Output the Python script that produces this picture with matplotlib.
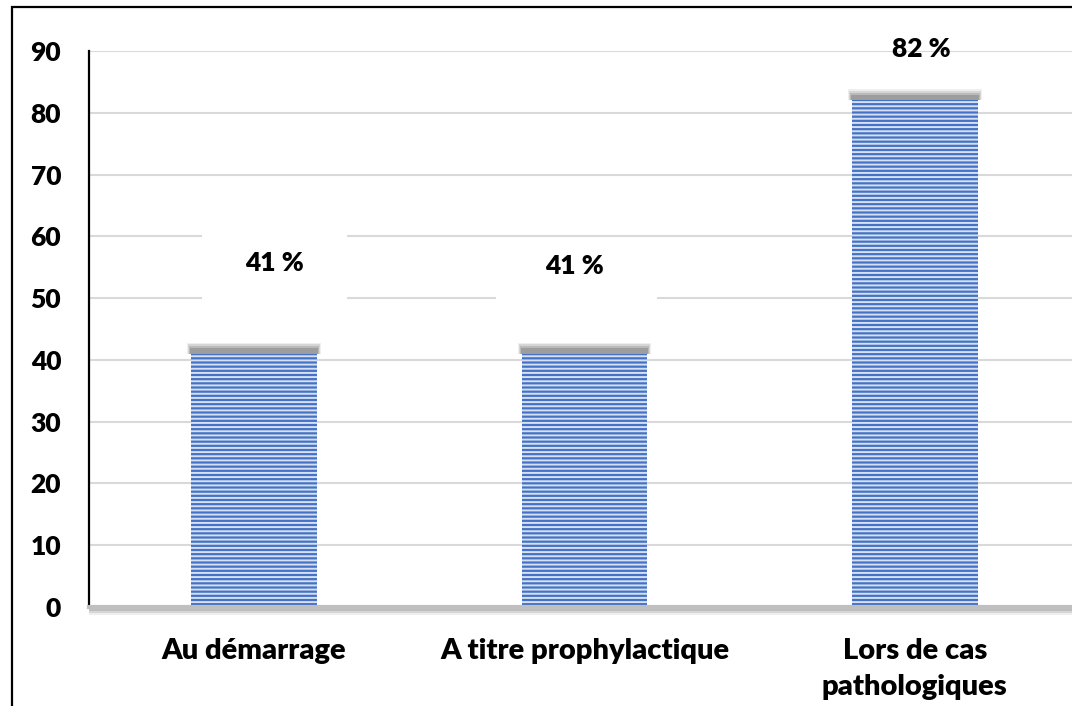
import matplotlib
matplotlib.use("Agg")
import matplotlib.pyplot as plt
from matplotlib.patches import Rectangle
import numpy as np

categories = ["Au démarrage", "A titre prophylactique", "Lors de cas\npathologiques"]
values = [41, 41, 82]
value_labels = ["41 %", "41 %", "82 %"]
yticks = [0, 10, 20, 30, 40, 50, 60, 70, 80, 90]

plt.rcParams['font.family'] = ['Lato', 'DejaVu Sans']
plt.rcParams['hatch.linewidth'] = 1.4

W, H = 1072, 706
fig = plt.figure(figsize=(W / 100, H / 100), dpi=100)
ax = fig.add_axes([89 / W, 1 - 607 / H, (1080 - 89) / W, (607 - 51) / H])

x = np.arange(len(categories))
bw = 0.38
blue = "#4472C4"

# soft shadows on bar tops
for xi, v in zip(x, values):
    for k, a in enumerate([0.12, 0.2, 0.3, 0.45]):
        grow = 0.012 - k * 0.003
        ax.add_patch(Rectangle((xi - bw / 2 - grow, v), bw + 2 * grow, 1.8 - k * 0.3,
                               facecolor="#7a7a7a", alpha=a, lw=0, zorder=2))

ax.bar(x, values, width=bw, color=blue, edgecolor="#D6E0F2", linewidth=0,
       hatch="----", zorder=3)

ax.set_xlim(-0.5, 2.5)
ax.set_ylim(0, 90)
ax.set_yticks(yticks)
ax.set_xticks(x)
ax.set_xticklabels(categories, fontsize=21, fontweight="heavy", linespacing=1.52)
ax.set_yticklabels([str(t) for t in yticks], fontsize=19, fontweight="heavy")
ax.tick_params(axis="y", length=0, pad=20)
ax.tick_params(axis="x", length=0, pad=22)

ax.grid(axis="y", color="#D9D9D9", linewidth=1.5, zorder=0)
ax.set_axisbelow(True)

for s in ["top", "right"]:
    ax.spines[s].set_visible(False)
ax.spines["left"].set_color("black")
ax.spines["left"].set_linewidth(1.6)
ax.spines["bottom"].set_color("#BFBFBF")
ax.spines["bottom"].set_linewidth(3)
ax.spines["bottom"].set_zorder(4)
# shadow under bottom axis
for k, a in enumerate([0.15, 0.25, 0.35]):
    ax.add_patch(Rectangle((-0.5, -1.3 + k * 0.3), 3.0, 1.3 - k * 0.3, facecolor="#909090",
                           alpha=a, lw=0, zorder=1, clip_on=False))

# white boxes hiding gridlines behind labels (as in reference)
boxes = [(-0.158, 49.7, 0.44, 11.0), (-0.267, 48.9, 0.485, 2.6)]
for xi, (bx, by, bwid, bh) in zip(x, boxes):
    ax.add_patch(Rectangle((xi + bx, by), bwid, bh, color="white", lw=0, zorder=1.5))

label_offsets = [(0.06, 55.7), (-0.03, 55.2), (0.02, 90.3)]
for xi, lab, (dx, ly) in zip(x, value_labels, label_offsets):
    ax.text(xi + dx, ly, lab, ha="center", va="center", fontsize=19,
            fontweight="heavy", zorder=5, clip_on=False)

# figure border
fig.add_artist(Rectangle((12 / W, -0.1), 1.2, 1 - 7 / H + 0.1, transform=fig.transFigure,
                         fill=False, edgecolor="black", linewidth=1.6))

fig.savefig("out.png", dpi=100)
